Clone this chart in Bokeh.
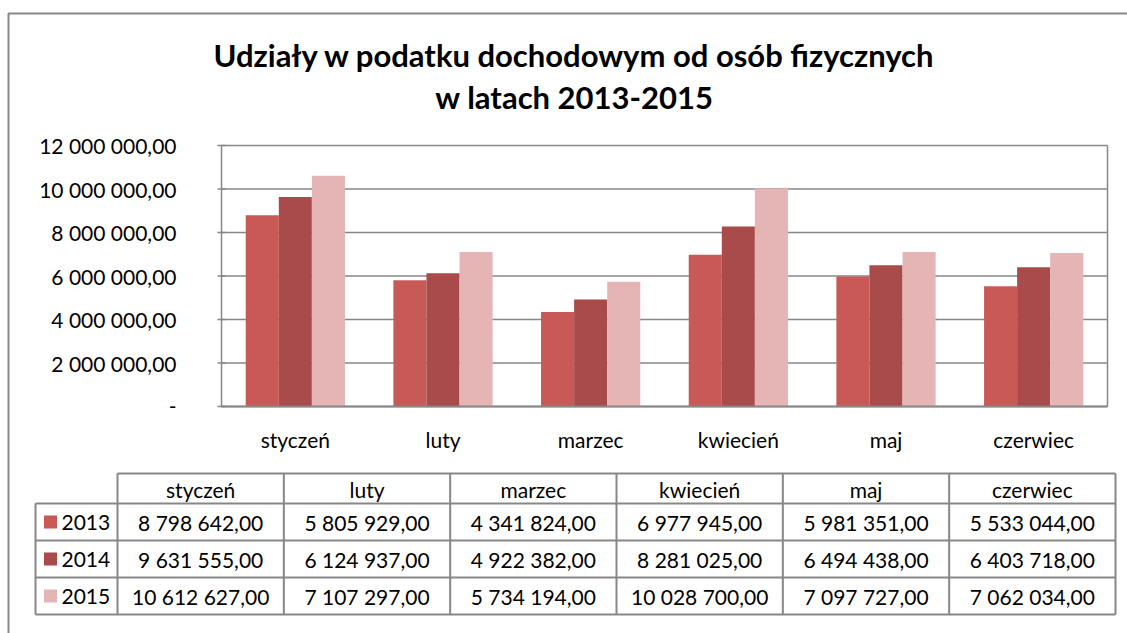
from bokeh.plotting import figure
from bokeh.models import Range1d
from bokeh.embed import file_html
from bokeh.resources import INLINE
from bokeh.core.properties import value

# ---------------- data ----------------
title_lines = ["Udziały w podatku dochodowym od osób fizycznych", "w latach 2013-2015"]
months = ["styczeń", "luty", "marzec", "kwiecień", "maj", "czerwiec"]
years = ["2013", "2014", "2015"]
v2013 = [8798642.00, 5805929.00, 4341824.00, 6977945.00, 5981351.00, 5533044.00]
v2014 = [9631555.00, 6124937.00, 4922382.00, 8281025.00, 6494438.00, 6403718.00]
v2015 = [10612627.00, 7107297.00, 5734194.00, 10028700.00, 7097727.00, 7062034.00]
y_ticks = [0, 2000000, 4000000, 6000000, 8000000, 10000000, 12000000]
y_tick_labels = ["-", "2 000 000,00", "4 000 000,00", "6 000 000,00",
                 "8 000 000,00", "10 000 000,00", "12 000 000,00"]

# ---------------- styles / layout ----------------
colors = ["#C95957", "#A84B4A", "#E5B4B5"]
GRAY = "#878787"
FONT = value("Lato")
W, H = 1127, 633
FRAME_L, FRAME_R, FRAME_T, FRAME_B = 221, 1107, 145, 406
Y_MAX = 12000000
BW = 0.224


def fmt(v):
    return f"{v:,.2f}".replace(",", " ").replace(".", ",")


# whole page as one pixel-space canvas
p = figure(width=W, height=H, title=None,
           x_range=Range1d(0, W), y_range=Range1d(H, 0),
           x_axis_location=None, y_axis_location=None, min_border=0,
           output_backend="svg", toolbar_location=None)
p.outline_line_color = None
p.grid.grid_line_color = None
p.background_fill_color = "white"
p.border_fill_color = "white"

# outer chart frame (left and top edges)
p.line(x=[8, 8, W + 5], y=[H + 5, 13, 13], line_color=GRAY, line_width=2)

# title
p.text(x=[574, 574], y=[54, 96], text=title_lines, text_align="center",
       text_baseline="middle", text_font=FONT, text_font_style="bold",
       text_font_size="31px", text_color="black")

# ---------------- chart (sub-coordinate system) ----------------
n = len(months)
chart = p.subplot(x_source=Range1d(0, n), y_source=Range1d(0, Y_MAX),
                  x_target=Range1d(FRAME_L, FRAME_R), y_target=Range1d(FRAME_B, FRAME_T))

# gridlines and plot-area border
chart.segment(x0=[0] * len(y_ticks), x1=[n] * len(y_ticks), y0=y_ticks, y1=y_ticks,
              line_color=GRAY, line_width=1.5)
chart.segment(x0=[0, n], x1=[0, n], y0=[0, 0], y1=[Y_MAX, Y_MAX],
              line_color=GRAY, line_width=1.5)
chart.scatter(x=[0] * len(y_ticks), y=y_ticks, marker="dash", size=8,
              line_color=GRAY, line_width=1.5)

centers = [i + 0.5 for i in range(n)]
for k, (vals, col) in enumerate(zip([v2013, v2014, v2015], colors)):
    chart.vbar(x=[c + (k - 1) * BW for c in centers], top=vals, bottom=0, width=BW,
               fill_color=col, line_color=None)

# x axis line
chart.segment(x0=[0], x1=[n], y0=[0], y1=[0], line_color=GRAY, line_width=2.2)

# axis labels
chart.text(x=[0] * len(y_ticks), y=y_ticks, text=y_tick_labels, x_offset=-45,
           text_align="right", text_baseline="middle", text_font=FONT,
           text_font_size="21px", text_color="black")
chart.text(x=centers, y=[0] * n, text=months, y_offset=33,
           text_align="center", text_baseline="middle", text_font=FONT,
           text_font_size="21px", text_color="black")

# ---------------- data table ----------------
LEG_L, COL_L, COL_R = 35, 117, 1115
HDR_T, HDR_B = 473, 503
ROW_H = 37
col_w = (COL_R - COL_L) / n
row_b = [HDR_B + ROW_H * (k + 1) for k in range(len(years))]

x0s, y0s, x1s, y1s = [COL_L], [HDR_T], [COL_R], [HDR_T]
for yy in [HDR_B] + row_b:
    x0s.append(LEG_L); y0s.append(yy); x1s.append(COL_R); y1s.append(yy)
x0s.append(LEG_L); y0s.append(HDR_B); x1s.append(LEG_L); y1s.append(row_b[-1])
for k in range(n + 1):
    xx = COL_L + k * col_w
    x0s.append(xx); y0s.append(HDR_T); x1s.append(xx); y1s.append(row_b[-1])
p.segment(x0=x0s, y0=y0s, x1=x1s, y1=y1s, line_color=GRAY, line_width=2)

tcx = [COL_L + (k + 0.5) * col_w for k in range(n)]
p.text(x=tcx, y=[(HDR_T + HDR_B) / 2 + 1] * n, text=months,
       text_align="center", text_baseline="middle", text_font=FONT,
       text_font_size="21px", text_color="black")

for r, (yr, vals, col) in enumerate(zip(years, [v2013, v2014, v2015], colors)):
    cy = HDR_B + ROW_H * (r + 0.5)
    p.text(x=tcx, y=[cy] * n, text=[fmt(v) for v in vals],
           text_align="center", text_baseline="middle", text_font=FONT,
           text_font_size="21px", text_color="black")
    p.rect(x=[50], y=[cy], width=13, height=13, fill_color=col, line_color=None)
    p.text(x=[61], y=[cy], text=[yr], text_align="left", text_baseline="middle",
           text_font=FONT, text_font_size="21px", text_color="black")

open("out.html", "w").write(file_html(p, INLINE))
